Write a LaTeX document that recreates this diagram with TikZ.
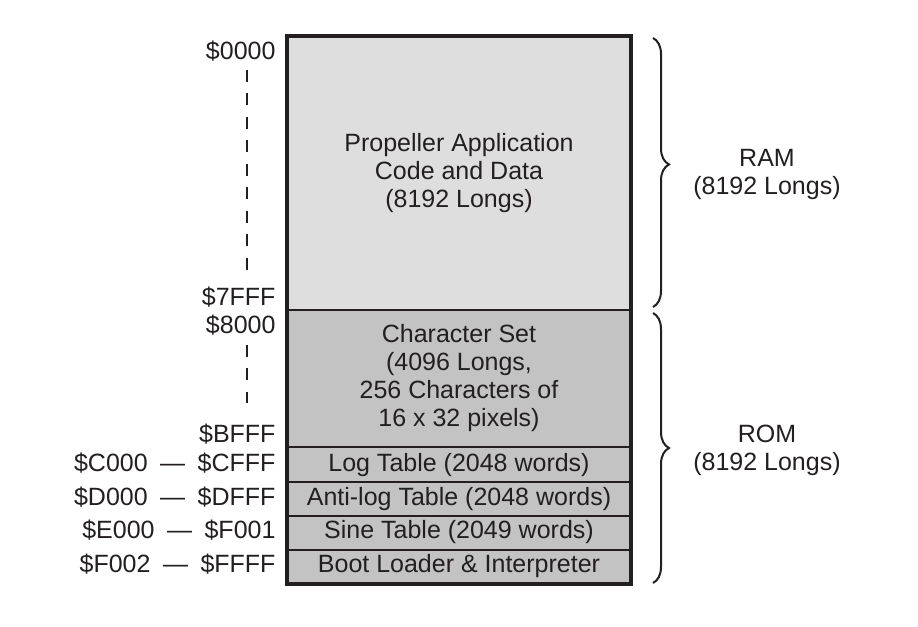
\documentclass[tikz,border=0pt]{standalone}
\usepackage{fontspec}
\setmainfont{Liberation Sans}
\usetikzlibrary{decorations.pathreplacing}

\definecolor{ink}{RGB}{35,31,32}
\definecolor{ramgray}{RGB}{222,222,222}
\definecolor{romgray}{RGB}{195,195,195}

\tikzset{every picture/.style={line width=0.75pt}}
\tikzset{
  memtxt/.style={font=\fontsize{18.75}{21}\selectfont, text=ink, inner sep=0pt, align=center},
  addr/.style={memtxt, anchor=base east},
  rowtxt/.style={memtxt, anchor=base},
  blk/.style={draw=ink, line width=2pt},
  addrdash/.style={draw=ink, line width=1.8pt, dash pattern={on 9pt off 8.6pt}},
  membrace/.style={draw=ink, line width=1.5pt, decorate, decoration={brace, amplitude=12pt, #1}},
  membrace/.default={aspect=0.5},
}

\begin{document}
\begin{tikzpicture}[x=0.75pt,y=0.75pt,yscale=-1,xscale=1]
        \useasboundingbox (0,0) rectangle (918,626);
        % memory blocks
        \draw [blk, fill=ramgray] (287,36) rectangle (631,310);
        \draw [blk, fill=romgray] (287,310) rectangle (631,447);
        \draw [blk, fill=romgray] (287,447) rectangle (631,482);
        \draw [blk, fill=romgray] (287,482) rectangle (631,516);
        \draw [blk, fill=romgray] (287,516) rectangle (631,550);
        \draw [blk, fill=romgray] (287,550) rectangle (631,584);
        \draw [draw=ink, line width=2.3pt] (287,36) rectangle (631,584);
        % block texts
        \node [memtxt] (app) at (459,173) {Propeller Application\\Code and Data\\(8192 Longs)};
        \node [memtxt] (charset) at (459,378) {Character Set\\(4096 Longs,\\256 Characters of\\16 x 32 pixels)};
        \node [rowtxt] (logtab) at (459,471) {Log Table (2048 words)};
        \node [rowtxt] (antilog) at (459,505) {Anti-log Table (2048 words)};
        \node [rowtxt] (sinetab) at (459,538) {Sine Table (2049 words)};
        \node [rowtxt] (boot) at (459,572) {Boot Loader \& Interpreter};
        % addresses
        \node [addr] (a0000) at (276,59) {\$0000};
        \node [addr] (a7fff) at (276,305) {\$7FFF};
        \node [addr] (a8000) at (276,333) {\$8000};
        \node [addr] (abfff) at (276,442) {\$BFFF};
        \node [addr] (ac000) at (276,471) {\$C000\enspace—\enspace\$CFFF};
        \node [addr] (ad000) at (276,505) {\$D000\enspace—\enspace\$DFFF};
        \node [addr] (ae000) at (276,538) {\$E000\enspace—\enspace\$F001};
        \node [addr] (af002) at (276,572) {\$F002\enspace—\enspace\$FFFF};
        \coordinate (d1top) at (247,70);
        \coordinate (d1bot) at (247,271);
        \coordinate (d2top) at (247,345);
        \coordinate (d2bot) at (247,403);
        \draw [addrdash] (d1top) -- (d1bot);
        \draw [addrdash] (d2top) -- (d2bot);
        % braces
        \coordinate (ramtop) at (653,38);
        \coordinate (rambot) at (653,307);
        \coordinate (romtop) at (653,313);
        \coordinate (rombot) at (653,583);
        \draw [membrace={aspect=0.47}] (ramtop) -- (rambot);
        \draw [membrace] (romtop) -- (rombot);
        \node [memtxt] (ram) at (767,174) {RAM\\(8192 Longs)};
        \node [memtxt] (rom) at (767,450) {ROM\\(8192 Longs)};
\end{tikzpicture}
\end{document}
